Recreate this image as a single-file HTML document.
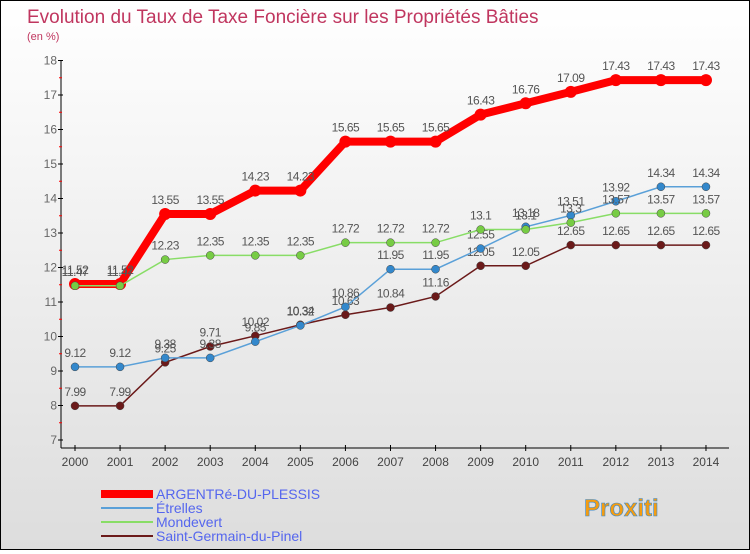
<!DOCTYPE html>
<html><head><meta charset="utf-8"><style>
body{margin:0;}
#c{width:748px;height:548px;border:1px solid #000;background:linear-gradient(#fff,#ddd);position:relative;font-family:"Liberation Sans","DejaVu Sans",sans-serif;}
</style></head><body>
<div id="c">
<svg id="s" width="748" height="548"></svg>
</div>
<script>
const years=["2000","2001","2002","2003","2004","2005","2006","2007","2008","2009","2010","2011","2012","2013","2014"];
const yTicks=[7,8,9,10,11,12,13,14,15,16,17,18];
const argentre=[11.52,11.52,13.55,13.55,14.23,14.23,15.65,15.65,15.65,16.43,16.76,17.09,17.43,17.43,17.43];
const etrelles=[9.12,9.12,9.38,9.38,9.85,10.32,10.86,11.95,11.95,12.55,13.18,13.51,13.92,14.34,14.34];
const mondevert=[11.47,11.47,12.23,12.35,12.35,12.35,12.72,12.72,12.72,13.1,13.1,13.3,13.57,13.57,13.57];
const sgp=[7.99,7.99,9.25,9.71,10.02,10.34,10.63,10.84,11.16,12.05,12.05,12.65,12.65,12.65,12.65];
const names=["ARGENTRé-DU-PLESSIS","Étrelles","Mondevert","Saint-Germain-du-Pinel"];
const NS="http://www.w3.org/2000/svg";
const s=document.getElementById('s');
function X(i){return 74+i*45.07;}
function Y(v){return 439-(v-7)*34.5;}
function el(t,a,p){const e=document.createElementNS(NS,t);for(const k in a)e.setAttribute(k,a[k]);(p||s).appendChild(e);return e;}
function txt(x,y,str,a){const e=el('text',Object.assign({x:x,y:y},a));e.textContent=str;return e;}
let t=txt(26,22,"Evolution du Taux de Taxe Foncière sur les Propriétés Bâties",{fill:"#c0365f","font-size":19});

t=txt(26,39,"(en %)",{fill:"#c0365f","font-size":11});

let ax=el('line',{x1:60,y1:Y(18),x2:60,y2:Y(7)+8,stroke:"#000"});

let xa=el('line',{x1:60,y1:Y(7)+8,x2:728,y2:Y(7)+8,stroke:"#000"});

yTicks.forEach(v=>{el('line',{x1:57,y1:Y(v),x2:62,y2:Y(v),stroke:"#000"});
 if(v<18)el('line',{x1:58,y1:Y(v+0.5),x2:61,y2:Y(v+0.5),stroke:"#f00"});
 let l=txt(56,Y(v)+4,String(v),{fill:"#666","font-size":12,"text-anchor":"end"});
 });
years.forEach((y,i)=>{el('line',{x1:X(i),y1:Y(7)+5,x2:X(i),y2:Y(7)+11,stroke:"#000"});
 let l=txt(X(i),Y(7)+26,y,{fill:"#444","font-size":12,"text-anchor":"middle"});
 });
const series=[[argentre,"#ff0000","#ff0000",8,6],[sgp,"#6b1a1a","#6b1a1a",1.5,4],[etrelles,"#5aa0d8","#3388cc",1.5,4],[mondevert,"#88dd66","#77cc44",1.5,4]];
const order=[0,3,1,2];
series.forEach((sr,k)=>{const [d,lc,pc,w,r]=sr;
 let pl=el('polyline',{points:d.map((v,i)=>X(i)+","+Y(v)).join(" "),fill:"none",stroke:lc,"stroke-width":w});
 
 d.forEach((v,i)=>{let c=el('circle',{cx:X(i),cy:Y(v),r:r,fill:pc,stroke:w>2?"#ff0000":"#444","stroke-width":w>2?0:0.5});
  
  let l=txt(X(i),Y(v)-10,String(v),{fill:"#555","font-size":12,"text-anchor":"middle","letter-spacing":"-0.5"});
  });
});
const lg=[["#ff0000",8],["#5aa0d8",2],["#88dd66",2],["#6b1a1a",2]];
lg.forEach((g,i)=>{const y=493+i*14;
 let ln=el('line',{x1:100,y1:y,x2:152,y2:y,stroke:g[0],"stroke-width":g[1]});
 
 let l=txt(155,y+5,names[i],{fill:"#5566ee","font-size":14});
 });
let p=txt(583,515,"Proxiti",{fill:"#f39c12","font-size":24,"font-weight":"bold",stroke:"#3a8ad0","stroke-width":0.6});

</script>
</body></html>
